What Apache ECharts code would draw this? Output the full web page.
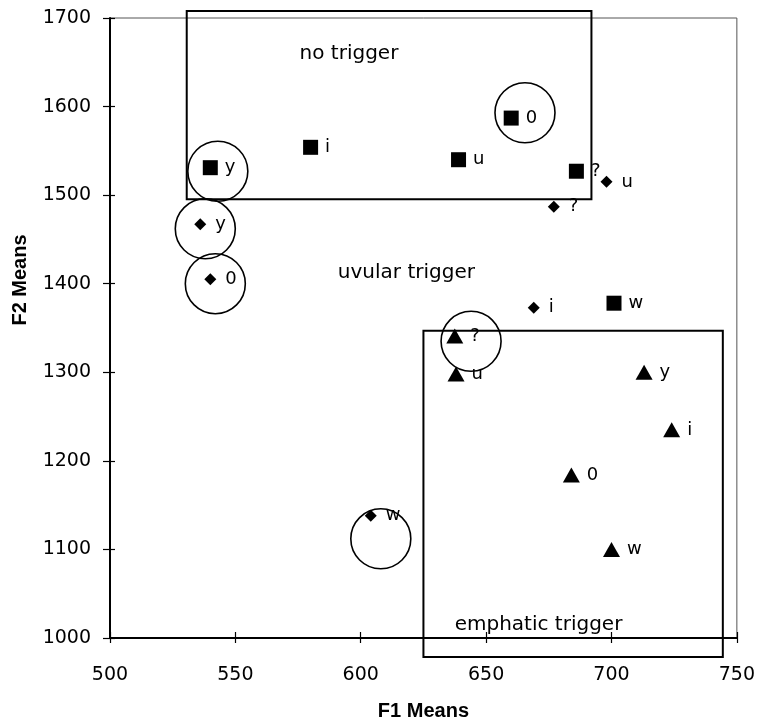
<!DOCTYPE html>
<html>
<head>
<meta charset="utf-8">
<script src="https://cdn.jsdelivr.net/npm/echarts@6/dist/echarts.min.js"></script>
<style>html,body{margin:0;padding:0;background:#fff;}#c{width:758px;height:726px;}</style>
</head>
<body>
<div id="c"></div>
<script>
// ---- data ----
const xMin = 500, xMax = 750, xStep = 50;
const yMin = 1000, yMax = 1700, yStep = 100;
const xName = 'F1 Means';
const yName = 'F2 Means';

// no trigger (squares)
const squareLabels = ['y', 'i', 'u', '0', '?', 'w'];
const squareF1 = [540, 580, 639, 660, 686, 701];
const squareF2 = [1531, 1554, 1540, 1587, 1527, 1378];

// uvular trigger (diamonds)
const diamondLabels = ['y', '0', 'u', '?', 'i', 'w'];
const diamondF1 = [536, 540, 698, 677, 669, 604];
const diamondF2 = [1467, 1405, 1515, 1487, 1373, 1138];

// emphatic trigger (triangles)
const triangleLabels = ['?', 'u', 'y', 'i', '0', 'w'];
const triangleF1 = [637.5, 638, 713, 724, 684, 700];
const triangleF2 = [1341, 1298, 1300, 1235, 1184, 1100];

// annotation circles (centres, data units)
const circleF1 = [543, 538, 542, 665.5, 644, 608];
const circleF2 = [1527, 1462, 1400, 1593, 1335, 1112];

// region boxes [F1 left, F2 top, F1 right, F2 bottom]
const boxNoTrigger = [530.6, 1708, 692, 1495.5];
const boxEmphatic = [625, 1347, 744.4, 978.5];

// region captions
const regionNames = ['no trigger', 'uvular trigger', 'emphatic trigger'];
const regionF1 = [595.3, 618.2, 670.9];
const regionF2 = [1660, 1412, 1015];

// ---- chart ----
const numFont = 'DejaVu Sans, sans-serif';
const zip = (xs, ys, ns) => xs.map((x, i) => ns ? { value: [x, ys[i]], name: ns[i] } : [x, ys[i]]);

const pointLabel = {
  show: true, position: 'right', distance: 7, formatter: p => p.name,
  color: '#000', fontFamily: numFont, fontSize: 18
};

const chart = echarts.init(document.getElementById('c'), null, { renderer: 'canvas' });
chart.setOption({
  animation: false,
  backgroundColor: '#fff',
  grid: { left: 110, right: 19, top: 18, bottom: 83, show: true, borderColor: '#555', borderWidth: 1, backgroundColor: 'transparent' },
  xAxis: [{
    type: 'value', min: xMin, max: xMax, interval: xStep, position: 'bottom',
    name: xName, nameLocation: 'middle', nameGap: 63,
    nameTextStyle: { fontFamily: 'Liberation Sans, Arial, sans-serif', fontWeight: 'bold', fontSize: 20, color: '#000' },
    axisLine: { show: true, lineStyle: { color: '#000', width: 2 } },
    axisTick: { show: true, inside: false, length: 5, lineStyle: { color: '#000', width: 1.2 } },
    axisLabel: { margin: 28, color: '#000', fontFamily: numFont, fontSize: 19, formatter: v => String(v) },
    splitLine: { show: false }
  }, {
    type: 'value', min: xMin, max: xMax, interval: xStep, position: 'bottom', offset: 0,
    axisLine: { show: false },
    axisTick: { show: true, inside: true, length: 6, lineStyle: { color: '#000', width: 1.2 } },
    axisLabel: { show: false }, splitLine: { show: false }
  }],
  yAxis: [{
    type: 'value', min: yMin, max: yMax, interval: yStep, position: 'left',
    name: yName, nameLocation: 'middle', nameGap: 80, nameRotate: 90,
    nameTextStyle: { fontFamily: 'Liberation Sans, Arial, sans-serif', fontWeight: 'bold', fontSize: 20, color: '#000', padding: [0, 0, 0, 96] },
    axisLine: { show: true, lineStyle: { color: '#000', width: 2 } },
    axisTick: { show: true, inside: false, length: 7, lineStyle: { color: '#000', width: 1.2 } },
    axisLabel: { margin: 19, color: '#000', fontFamily: numFont, fontSize: 19, formatter: v => String(v) },
    splitLine: { show: false }
  }, {
    type: 'value', min: yMin, max: yMax, interval: yStep, position: 'left', offset: 0,
    axisLine: { show: false },
    axisTick: { show: true, inside: true, length: 5, lineStyle: { color: '#000', width: 1.2 } },
    axisLabel: { show: false }, splitLine: { show: false }
  }],
  series: [
    {
      type: 'custom', coordinateSystem: 'cartesian2d', clip: false, silent: true, z: 1,
      data: [boxNoTrigger, boxEmphatic],
      encode: { x: [0, 2], y: [1, 3] },
      renderItem: (params, api) => {
        const p1 = api.coord([api.value(0), api.value(1)]);
        const p2 = api.coord([api.value(2), api.value(3)]);
        return {
          type: 'rect',
          shape: { x: p1[0], y: p1[1], width: p2[0] - p1[0], height: p2[1] - p1[1] },
          style: { fill: 'none', stroke: '#000', lineWidth: 2 }
        };
      }
    },
    {
      type: 'scatter', silent: true, z: 2, symbol: 'circle', symbolSize: 60,
      itemStyle: { color: 'rgba(0,0,0,0)', borderColor: '#000', borderWidth: 1.6, opacity: 1 },
      data: zip(circleF1, circleF2)
    },
    {
      type: 'scatter', silent: true, z: 3, symbol: 'rect', symbolSize: 15,
      itemStyle: { color: '#000', opacity: 1 }, label: pointLabel,
      data: zip(squareF1, squareF2, squareLabels)
    },
    {
      type: 'scatter', silent: true, z: 3, symbol: 'diamond', symbolSize: [12, 12],
      itemStyle: { color: '#000', opacity: 1 }, label: Object.assign({}, pointLabel, { distance: 9 }),
      data: zip(diamondF1, diamondF2, diamondLabels)
    },
    {
      type: 'scatter', silent: true, z: 3, symbol: 'triangle', symbolSize: [17, 15],
      itemStyle: { color: '#000', opacity: 1 }, label: pointLabel,
      data: zip(triangleF1, triangleF2, triangleLabels)
    },
    {
      type: 'scatter', silent: true, z: 4, symbolSize: 1, clip: false,
      itemStyle: { color: 'rgba(0,0,0,0)', opacity: 1 },
      label: { show: true, position: 'inside', formatter: p => p.name, color: '#000', fontFamily: numFont, fontSize: 20 },
      data: zip(regionF1, regionF2, regionNames)
    }
  ]
});
</script>
</body>
</html>
